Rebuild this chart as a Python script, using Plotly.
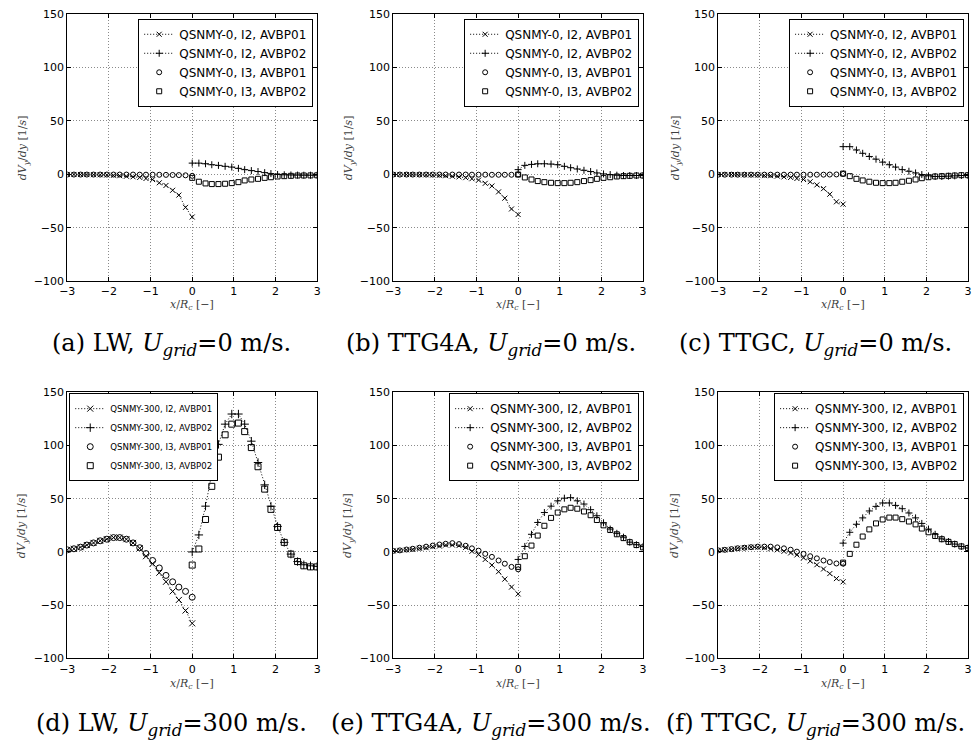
import plotly.graph_objects as go

# ---------------------------------------------------------------------------
# Sample positions x/R_c (left half: I2/I3 AVBP01, right half: AVBP02)
# ---------------------------------------------------------------------------
XL = [-3.0, -2.84, -2.68, -2.53, -2.37, -2.21, -2.05, -1.89, -1.74, -1.58,
      -1.42, -1.26, -1.11, -0.95, -0.79, -0.63, -0.47, -0.32, -0.16, 0.0]
XR = [0.0, 0.16, 0.32, 0.47, 0.63, 0.79, 0.95, 1.11, 1.26, 1.42,
      1.58, 1.74, 1.89, 2.05, 2.21, 2.37, 2.53, 2.68, 2.84, 3.0]

# (a) LW, U_grid = 0 m/s
a_i2_avbp01 = [-0.2, -0.2, -0.3, -0.3, -0.4, -0.5, -0.7, -1.0, -1.4, -1.9,
               -2.4, -3.0, -4.0, -5.0, -8.0, -10.5, -15.0, -19.5, -31.0, -40.0]
a_i2_avbp02 = [10.4, 10.4, 9.8, 8.9, 8.3, 7.4, 6.7, 5.5, 4.3, 3.4,
               2.5, 1.5, 0.6, -0.2, -0.5, -0.7, -0.8, -0.9, -0.9, -0.9]
a_i3_avbp01 = [-0.3, -0.3, -0.3, -0.3, -0.3, -0.3, -0.3, -0.3, -0.3, -0.3,
               -0.3, -0.4, -0.4, -0.4, -0.5, -0.6, -0.7, -0.8, -1.0, -1.5]
a_i3_avbp02 = [-3.4, -7.0, -8.6, -9.2, -9.2, -8.9, -8.3, -7.4, -5.8, -4.9,
               -4.3, -3.4, -2.8, -2.1, -1.8, -1.5, -1.2, -1.2, -1.1, -1.0]

# (b) TTG4A, U_grid = 0 m/s
b_i2_avbp01 = [-0.2, -0.2, -0.3, -0.3, -0.4, -0.5, -0.7, -1.0, -1.4, -1.9,
               -2.5, -3.2, -4.2, -5.5, -8.5, -11.0, -16.5, -22.4, -32.5, -37.7]
b_i2_avbp02 = [4.3, 8.3, 9.2, 9.8, 9.8, 9.5, 8.9, 7.4, 6.1, 4.9,
               3.7, 2.5, 1.2, 0.3, -0.3, -0.9, -1.2, -1.2, -1.2, -1.2]
b_i3_avbp01 = [-0.3, -0.3, -0.3, -0.3, -0.3, -0.3, -0.3, -0.3, -0.3, -0.3,
               -0.3, -0.3, -0.4, -0.4, -0.4, -0.5, -0.5, -0.5, -0.5, -0.3]
b_i3_avbp02 = [-0.3, -3.0, -4.9, -6.4, -7.4, -8.0, -8.3, -8.3, -8.0, -7.4,
               -6.4, -5.5, -4.3, -3.4, -2.8, -2.1, -1.8, -1.5, -1.2, -1.2]

# (c) TTGC, U_grid = 0 m/s
c_i2_avbp01 = [-0.2, -0.2, -0.3, -0.4, -0.5, -0.6, -0.8, -1.1, -1.4, -1.8,
               -2.5, -3.0, -4.0, -4.9, -7.0, -10.0, -13.5, -18.7, -25.8, -28.0]
c_i2_avbp02 = [25.8, 25.8, 22.7, 19.6, 16.6, 14.1, 11.3, 8.9, 6.7, 4.3,
               2.8, 1.2, -0.3, -1.5, -2.1, -2.1, -1.8, -1.5, -1.2, -1.2]
c_i3_avbp01 = [-0.4, -0.4, -0.4, -0.4, -0.4, -0.4, -0.4, -0.4, -0.4, -0.4,
               -0.4, -0.4, -0.4, -0.4, -0.4, -0.4, -0.4, -0.3, -0.2, 0.3]
c_i3_avbp02 = [0.6, -1.8, -4.3, -5.8, -7.0, -8.0, -8.3, -8.3, -8.0, -7.0,
               -6.1, -4.9, -3.7, -2.8, -2.1, -1.8, -1.5, -1.2, -0.9, -0.9]

# (d) LW, U_grid = 300 m/s
d_i2_avbp01 = [2.0, 3.0, 4.5, 6.5, 8.5, 10.5, 12.0, 13.5, 13.5, 12.0,
               8.5, 3.5, -4.0, -11.0, -19.5, -28.0, -37.0, -45.0, -55.0, -67.0]
d_i2_avbp02 = [0.0, 16.0, 43.0, 73.5, 101.0, 120.0, 129.5, 129.5, 120.0, 104.0,
               84.0, 63.0, 43.0, 24.0, 9.0, -2.0, -9.0, -12.0, -13.0, -13.5]
d_i3_avbp01 = [2.0, 3.0, 4.5, 6.5, 8.5, 10.5, 12.0, 13.5, 13.5, 12.0,
               8.5, 4.0, -1.5, -8.0, -15.0, -22.0, -28.0, -33.0, -37.0, -42.5]
d_i3_avbp02 = [-12.3, 2.8, 30.5, 61.6, 89.0, 110.0, 120.0, 121.0, 113.0, 98.0,
               80.0, 59.0, 40.0, 23.0, 9.0, -2.0, -9.0, -13.0, -14.0, -14.0]

# (e) TTG4A, U_grid = 300 m/s
e_i2_avbp01 = [1.0, 1.5, 2.0, 2.5, 3.5, 4.0, 5.0, 5.5, 6.5, 6.5,
               6.0, 4.3, 0.6, -2.5, -7.0, -12.3, -18.5, -25.5, -33.0, -39.4]
e_i2_avbp02 = [-7.0, 5.2, 16.6, 27.7, 37.0, 43.0, 48.0, 50.5, 51.0, 48.0,
               45.0, 39.7, 34.0, 27.4, 21.5, 17.5, 13.9, 9.2, 6.8, 5.2]
e_i3_avbp01 = [1.0, 1.5, 2.3, 3.0, 4.0, 5.0, 6.0, 7.0, 7.7, 8.3,
               7.4, 5.8, 3.4, 1.2, -1.8, -4.6, -8.0, -11.0, -14.0, -16.3]
e_i3_avbp02 = [-14.0, -4.0, 6.0, 15.4, 24.6, 32.0, 37.0, 40.0, 41.5, 40.6,
               38.0, 34.5, 30.0, 25.0, 20.6, 16.6, 13.0, 9.2, 6.5, 4.3]

# (f) TTGC, U_grid = 300 m/s
f_i2_avbp01 = [1.5, 2.0, 2.5, 3.5, 4.0, 4.5, 4.5, 4.0, 3.0, 2.0,
               0.6, -0.9, -2.8, -5.5, -8.5, -12.0, -16.0, -20.3, -25.0, -28.0]
f_i2_avbp02 = [8.3, 18.5, 26.0, 32.0, 38.5, 42.8, 46.0, 46.0, 43.7, 40.6,
               36.6, 32.0, 26.8, 21.5, 16.6, 12.3, 9.8, 7.4, 5.2, 3.7]
f_i3_avbp01 = [1.5, 2.0, 2.7, 3.5, 4.0, 4.5, 5.0, 5.0, 5.0, 4.3,
               3.4, 2.1, 0.3, -1.8, -4.0, -6.0, -8.0, -9.5, -10.8, -11.0]
f_i3_avbp02 = [-10.0, -1.8, 6.8, 14.5, 21.2, 26.8, 30.5, 32.3, 32.3, 30.8,
               28.6, 25.9, 22.0, 18.5, 15.0, 12.0, 9.5, 7.4, 5.2, 3.7]

LABELS_0 = ["QSNMY-0, I2, AVBP01", "QSNMY-0, I2, AVBP02",
            "QSNMY-0, I3, AVBP01", "QSNMY-0, I3, AVBP02"]
LABELS_300 = ["QSNMY-300, I2, AVBP01", "QSNMY-300, I2, AVBP02",
              "QSNMY-300, I3, AVBP01", "QSNMY-300, I3, AVBP02"]

CAPTIONS = [
    "(a) LW, <i>U<sub>grid</sub></i>=0 m/s.",
    "(b) TTG4A, <i>U<sub>grid</sub></i>=0 m/s.",
    "(c) TTGC, <i>U<sub>grid</sub></i>=0 m/s.",
    "(d) LW, <i>U<sub>grid</sub></i>=300 m/s.",
    "(e) TTG4A, <i>U<sub>grid</sub></i>=300 m/s.",
    "(f) TTGC, <i>U<sub>grid</sub></i>=300 m/s.",
]

# ---------------------------------------------------------------------------
W, H = 976, 750
COLS = [(60, 313), (390, 643), (719, 972)]          # plot area, px
ROWS = [(8, 280), (393, 664)]
YTITLE_X = [15, 345, 676]
CAPTION_X = [166, 489, 818]
CAPTION_Y = [344, 731]
XTITLE_Y = [304, 690]


def fx(p):
    return p / W


def fy(p):
    return 1 - p / H


panel_series = [
    (a_i2_avbp01, a_i2_avbp02, a_i3_avbp01, a_i3_avbp02),
    (b_i2_avbp01, b_i2_avbp02, b_i3_avbp01, b_i3_avbp02),
    (c_i2_avbp01, c_i2_avbp02, c_i3_avbp01, c_i3_avbp02),
    (d_i2_avbp01, d_i2_avbp02, d_i3_avbp01, d_i3_avbp02),
    (e_i2_avbp01, e_i2_avbp02, e_i3_avbp01, e_i3_avbp02),
    (f_i2_avbp01, f_i2_avbp02, f_i3_avbp01, f_i3_avbp02),
]

fig = go.Figure()
layout = dict(
    width=W, height=H, autosize=False,
    margin=dict(l=0, r=0, t=0, b=0),
    paper_bgcolor="white", plot_bgcolor="white",
    font=dict(family="DejaVu Sans", size=11, color="black"),
    showlegend=True,
)
annotations = []

dotted = "1px,2px"

for k, series in enumerate(panel_series):
    row, col = divmod(k, 3)
    suffix = "" if k == 0 else str(k + 1)
    xa, ya = "x" + suffix, "y" + suffix
    leg = "legend" + suffix
    labels = LABELS_0 if row == 0 else LABELS_300
    ms = 6.0 if k == 3 else 5.0

    styles = [
        (XL, "x-thin", True, ms),
        (XR, "cross-thin", True, ms),
        (XL, "circle-open", False, ms),
        (XR, "square-open", False, ms),
    ]
    for ys, (xs, sym, joined, size), name in zip(series, styles, labels):
        fig.add_trace(go.Scatter(
            x=xs, y=ys, name=name, xaxis=xa, yaxis=ya, legend=leg,
            mode="lines+markers" if joined else "markers",
            line=dict(color="black", width=1, dash=dotted),
            marker=dict(symbol=sym, size=size, color="black",
                        line=dict(color="black", width=1)),
        ))

    l, r = COLS[col]
    t, b = ROWS[row]
    common = dict(
        showline=True, linecolor="black", linewidth=1, mirror="ticks",
        ticks="inside", ticklen=4, tickwidth=1, tickcolor="black",
        showgrid=True, gridcolor="#8a8a8a", gridwidth=1, griddash=dotted,
        zeroline=False, tickfont=dict(family="DejaVu Sans", size=11, color="black"),
    )
    layout["xaxis" + suffix] = dict(domain=[fx(l), fx(r)], anchor=ya,
                                    range=[-3, 3], tick0=0, dtick=1, **common)
    layout["yaxis" + suffix] = dict(domain=[fy(b), fy(t)], anchor=xa,
                                    range=[-100, 150], tick0=0, dtick=50, **common)

    if k == 3:
        legpos = dict(x=fx(62), xanchor="left", y=fy(t + 1), yanchor="top",
                      font=dict(family="DejaVu Sans", size=8.6, color="black"))
    else:
        legpos = dict(x=fx(r - 4), xanchor="right", y=fy(t + 5 if row == 0 else t + 1),
                      yanchor="top",
                      font=dict(family="DejaVu Sans", size=12, color="black"))
    layout[leg] = dict(bgcolor="white", bordercolor="black", borderwidth=1,
                       itemwidth=30, tracegroupgap=0, **legpos)

    # axis titles
    annotations.append(dict(
        text="<i>dV<sub>y</sub></i>/<i>dy</i> [1/<i>s</i>]",
        x=fx(YTITLE_X[col]), y=fy((t + b) / 2), xref="paper", yref="paper",
        textangle=-90, showarrow=False, xanchor="center", yanchor="middle",
        font=dict(family="DejaVu Serif", size=11, color="#404040"),
    ))
    annotations.append(dict(
        text="<i>x</i>/<i>R<sub>c</sub></i> [−]",
        x=fx((l + r) / 2), y=fy(XTITLE_Y[row]), xref="paper", yref="paper",
        showarrow=False, xanchor="center", yanchor="middle",
        font=dict(family="DejaVu Serif", size=11, color="#404040"),
    ))
    annotations.append(dict(
        text=CAPTIONS[k],
        x=fx(CAPTION_X[col]), y=fy(CAPTION_Y[row]), xref="paper", yref="paper",
        showarrow=False, xanchor="center", yanchor="middle",
        font=dict(family="DejaVu Serif", size=24, color="black"),
    ))

layout["annotations"] = annotations
fig.update_layout(**layout)
fig.write_html("out.html")
